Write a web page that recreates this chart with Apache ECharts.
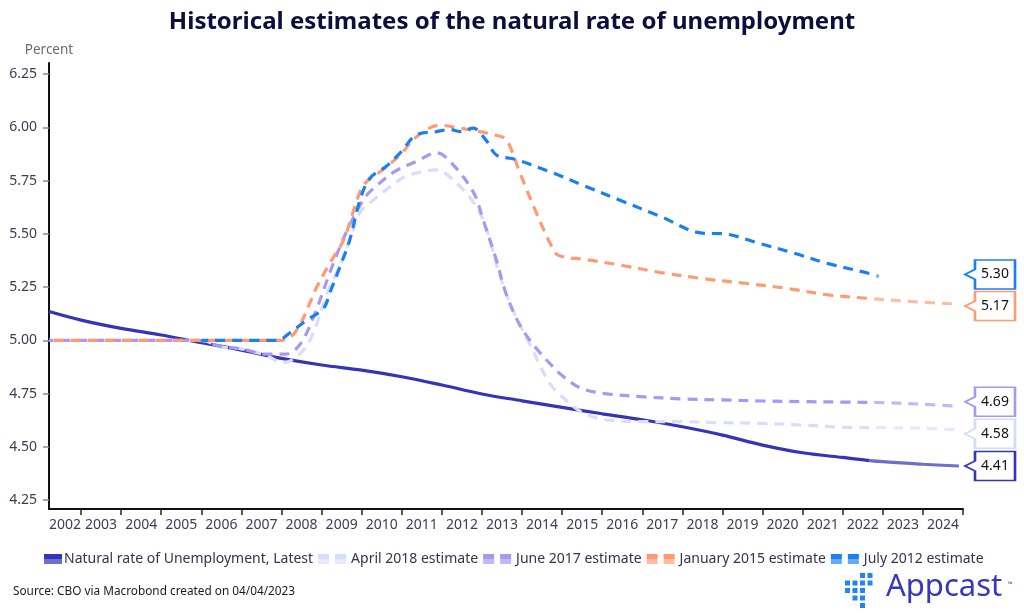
<!DOCTYPE html>
<html>
<head>
<meta charset="utf-8">
<script src="https://cdn.jsdelivr.net/npm/echarts@6/dist/echarts.min.js"></script>
<style>
html,body{margin:0;padding:0;background:#ffffff;}
#chart{width:1024px;height:616px;}
</style>
</head>
<body>
<div id="chart"></div>
<script>
// ---------- DATA ----------
const seriesNames = [
  'Natural rate of Unemployment, Latest',
  'April 2018 estimate',
  'June 2017 estimate',
  'January 2015 estimate',
  'July 2012 estimate'
];

const latestX = [2002.2,2003,2004,2005,2006,2007,2008,2009,2010,2011,2012,2013,2014,2015,2016,2017,2018,2019,2020,2021,2022,2023,2024,2024.9];
const latestY = [5.135,5.095,5.056,5.025,4.989,4.954,4.915,4.884,4.86,4.829,4.79,4.748,4.716,4.685,4.655,4.627,4.594,4.555,4.508,4.472,4.45,4.43,4.418,4.41];

const apr2018X = [2002.2,2006.0,2006.5,2007.0,2007.6,2008.05,2008.55,2008.8,2009.2,2009.46,2009.7,2009.96,2010.3,2010.7,2011.1,2011.87,2012.3,2012.8,2013.1,2013.45,2013.8,2014.2,2014.68,2015.03,2015.47,2016,2017,2018,2019,2020,2021,2022,2023,2024,2024.9];
const apr2018Y = [5.0,5.0,4.97,4.96,4.93,4.895,4.955,5.04,5.25,5.35,5.47,5.60,5.66,5.72,5.77,5.80,5.75,5.645,5.53,5.30,5.13,4.98,4.80,4.73,4.665,4.63,4.618,4.618,4.613,4.61,4.602,4.592,4.59,4.587,4.58];

const jun2017X = [2002.2,2005.9,2006.5,2007.0,2007.6,2008.1,2008.45,2008.8,2009.2,2009.46,2009.75,2010.1,2010.4,2010.8,2011.37,2011.87,2012.3,2012.8,2013.03,2013.36,2013.6,2013.95,2014.3,2014.7,2015.03,2015.47,2016.07,2017,2018,2019,2020,2021,2022,2023,2024,2024.9];
const jun2017Y = [5.0,5.0,4.97,4.96,4.935,4.935,4.978,5.11,5.315,5.44,5.56,5.675,5.73,5.79,5.84,5.88,5.82,5.69,5.565,5.377,5.22,5.07,4.975,4.89,4.83,4.775,4.75,4.735,4.725,4.72,4.715,4.712,4.71,4.707,4.70,4.69];

const jan2015X = [2002.2,2008.0,2008.38,2008.88,2009.2,2009.55,2009.8,2010.05,2010.45,2010.96,2011.37,2011.95,2012.45,2012.95,2013.3,2013.56,2013.7,2013.95,2014.36,2014.7,2014.9,2015.56,2016.43,2017.47,2018.5,2019.55,2020.6,2021.64,2022.64,2023.8,2024.9];
const jan2015Y = [5.0,5.0,5.048,5.25,5.36,5.47,5.61,5.73,5.79,5.87,5.956,6.01,5.996,5.98,5.965,5.95,5.91,5.785,5.597,5.456,5.40,5.38,5.354,5.318,5.29,5.268,5.244,5.213,5.197,5.181,5.17];

const jul2012X = [2006.0,2007.9,2008.2,2008.63,2009.05,2009.2,2009.46,2009.7,2009.96,2010.2,2010.6,2010.96,2011.37,2011.87,2012.2,2012.45,2012.78,2013.1,2013.36,2013.82,2014.69,2015.56,2016.43,2017.47,2018.5,2019.03,2019.9,2020.77,2021.64,2022.64,2022.9];
const jul2012Y = [5.0,5.0,5.034,5.095,5.15,5.22,5.346,5.47,5.66,5.76,5.815,5.88,5.965,5.98,5.99,5.98,5.996,5.94,5.87,5.85,5.792,5.725,5.659,5.58,5.503,5.50,5.456,5.41,5.36,5.315,5.30];

const tickYears = [2003,2004,2005,2006,2007,2008,2009,2010,2011,2012,2013,2014,2015,2016,2017,2018,2019,2020,2021,2022,2023,2024,2025];
const labelYears = [2002,2003,2004,2005,2006,2007,2008,2009,2010,2011,2012,2013,2014,2015,2016,2017,2018,2019,2020,2021,2022,2023,2024];
const yTickValues = [4.25,4.5,4.75,5.0,5.25,5.5,5.75,6.0,6.25];

// ---------- LAYOUT / STYLE ----------
const xMin = 2002.2, xMax = 2025;
const yMin = 4.208, yMax = 6.302;
const forecastStart = 2022.65;
const FONT = 'Noto Sans';

const mainColors = ['#3434b8','#d6defa','#a898f4','#ff9a72','#1a80f0'];
const lightColors = ['#6e6ecc','#e4e9fc','#c2b8f8','#ffbca2','#64aaf6'];
const borderColors = ['#3434b8','#d3dcf9','#a898f4','#ff9a72','#1a80f0'];
const labelShiftY = [0, 4, -4.5, 2, -2];
const xs = [latestX, apr2018X, jun2017X, jan2015X, jul2012X];
const ys = [latestY, apr2018Y, jun2017Y, jan2015Y, jul2012Y];
const dashOffsets = [0, 0, 6, 12, 3];

const labelPositions = labelYears.map(y => Math.max(y + 0.5, (xMin + y + 1) / 2));

function twoTone(c1, c2) {
  return {type:'linear', x:0, y:0, x2:0, y2:1, colorStops:[
    {offset:0, color:c1},{offset:0.5, color:c1},{offset:0.5, color:c2},{offset:1, color:c2}
  ]};
}

const calloutPath = 'path://M10,0L50,0L50,29L10,29L10,19.5L0,14.5L10,9.5Z';

const series = seriesNames.map((name, i) => {
  const data = xs[i].map((x, k) => [x, ys[i][k]]);
  const last = ys[i][ys[i].length - 1];
  return {
    name: name,
    type: 'line',
    data: data,
    showSymbol: false,
    smooth: 0.35,
    lineStyle: {
      width: 3.2,
      type: i === 0 ? 'solid' : [10, 7],
      dashOffset: dashOffsets[i],
      cap: 'butt'
    },
    itemStyle: {color: mainColors[i]},
    emphasis: {disabled: true},
    markPoint: {
      silent: true,
      symbol: calloutPath,
      symbolSize: [50, 29],
      symbolOffset: [27, labelShiftY[i]],
      itemStyle: {color: '#ffffff', borderColor: borderColors[i], borderWidth: 2},
      label: {
        show: true, position: 'inside', offset: [5, 0],
        color: '#111111', fontSize: 14, fontFamily: FONT,
        formatter: p => Number(p.value).toFixed(2)
      },
      data: [{coord: [xMax, last], value: last}]
    }
  };
});

const visualMaps = seriesNames.map((n, i) => ({
  show: false,
  type: 'piecewise',
  seriesIndex: i,
  dimension: 0,
  pieces: [
    {gte: 2000, lt: forecastStart, color: mainColors[i]},
    {gte: forecastStart, lte: 2030, color: lightColors[i]}
  ]
}));

const chart = echarts.init(document.getElementById('chart'), null, {renderer: 'canvas'});

const dotCols = [845, 852.5, 860, 867.5];
const dotRows = [573, 580.5, 588, 595.5, 603];
const dotPattern = [[2,3],[0,1,2,3],[0,1,2],[1,2],[2]];
const dots = [];
dotPattern.forEach((cols, r) => cols.forEach(c => dots.push({
  type: 'rect', shape: {x: dotCols[c], y: dotRows[r], width: 5, height: 5},
  style: {fill: '#1f86f0'}
})));

chart.setOption({
  animation: false,
  backgroundColor: '#ffffff',
  textStyle: {fontFamily: FONT},
  title: {
    text: 'Historical estimates of the natural rate of unemployment',
    left: 'center', top: 5,
    textStyle: {fontSize: 24, fontWeight: 'bold', color: '#0e0e3c', fontFamily: FONT}
  },
  grid: {left: 49, right: 61, top: 63, bottom: 107, containLabel: false},
  xAxis: {
    type: 'value', min: xMin, max: xMax,
    axisLine: {show: true, onZero: false, lineStyle: {color: '#111111', width: 2}},
    axisTick: {show: true, customValues: tickYears, length: 6, lineStyle: {color: '#222222', width: 1.5}},
    axisLabel: {customValues: labelPositions, formatter: v => String(Math.floor(v)), color: '#3c3c55', fontSize: 14, margin: 9, fontFamily: FONT},
    splitLine: {show: false}
  },
  yAxis: {
    type: 'value', min: yMin, max: yMax,
    name: 'Percent', nameLocation: 'end', nameGap: 6,
    nameTextStyle: {color: '#6a6a6a', fontSize: 13.5, fontFamily: FONT},
    axisLine: {show: true, lineStyle: {color: '#111111', width: 2}},
    axisTick: {show: true, customValues: yTickValues, length: 6, lineStyle: {color: '#8a8a99', width: 1.5}},
    axisLabel: {customValues: yTickValues, formatter: v => v.toFixed(2), color: '#3c3c50', fontSize: 14, margin: 12, fontFamily: FONT},
    splitLine: {show: false}
  },
  legend: {
    left: 39, top: 547, itemGap: 5, itemWidth: 28, itemHeight: 10,
    textStyle: {fontSize: 14, color: '#33334d', fontFamily: FONT},
    data: seriesNames.map((n, i) => ({
      name: n,
      icon: i === 0 ? 'path://M0,0H18V10H0Z' : 'path://M0,0H11V10H0Z M17,0H28V10H17Z',
      itemStyle: {color: twoTone(mainColors[i], lightColors[i]), borderWidth: 0},
      textStyle: i === 0 ? {padding: [0, 0, 0, -8]} : {padding: [0, 0, 0, 0]}
    }))
  },
  visualMap: visualMaps,
  series: series,
  graphic: [
    {type: 'text', left: 13, top: 586, style: {text: 'Source: CBO via Macrobond created on 04/04/2023', fontSize: 11.8, fill: '#1a1a1a', fontFamily: FONT}},
    {type: 'text', left: 886, top: 572, style: {text: 'Appcast', fontSize: 31, fill: '#3636bf', fontFamily: FONT}},
    {type: 'text', left: 1008, top: 581, style: {text: '™', fontSize: 6, fill: '#3636bf', fontFamily: FONT}}
  ].concat(dots)
});
</script>
</body>
</html>
